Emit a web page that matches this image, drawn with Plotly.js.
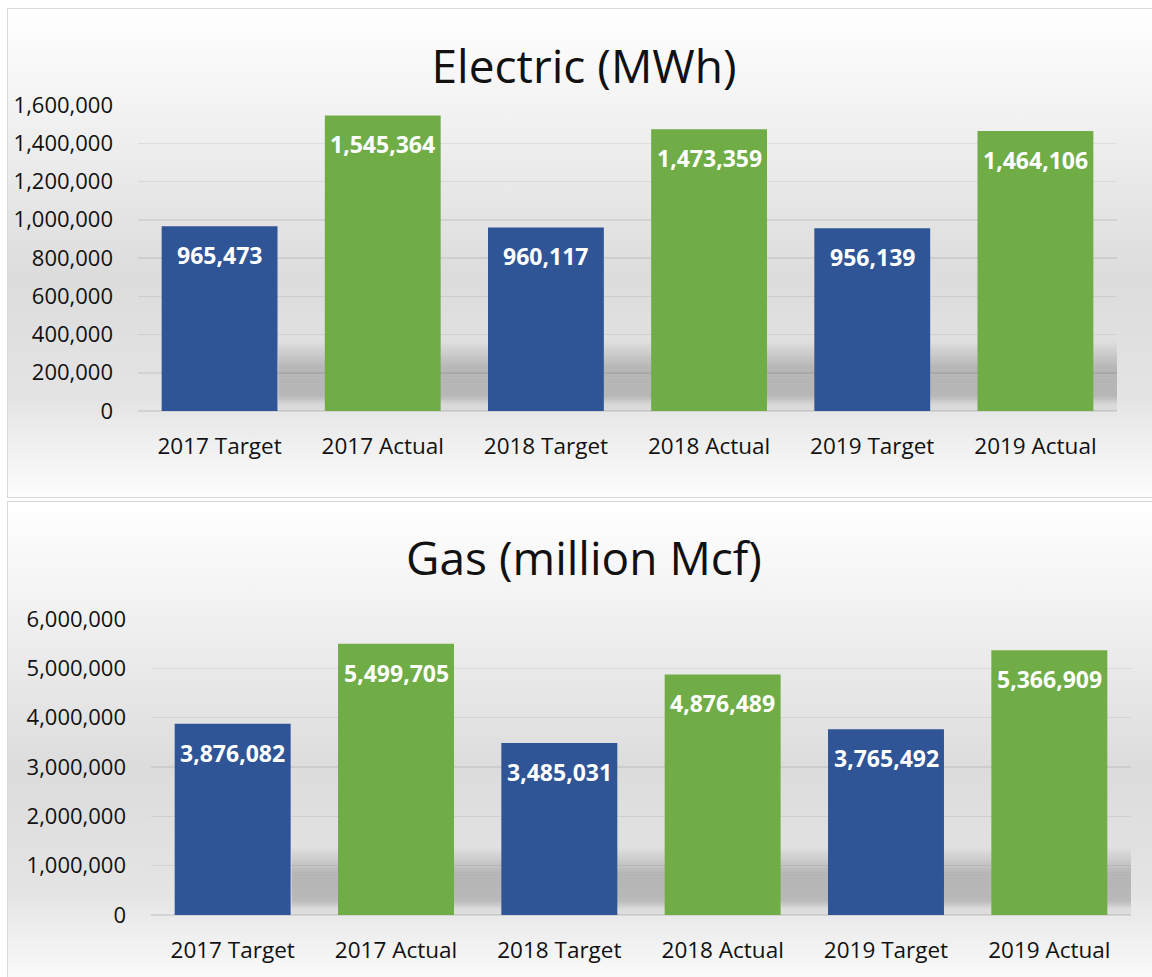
<!DOCTYPE html>
<html>
<head>
<meta charset="utf-8">
<script src="https://cdn.plot.ly/plotly-3.0.1.min.js"></script>
<style>
  html, body { margin: 0; padding: 0; background: #ffffff; width: 1152px; height: 977px; overflow: hidden; }
  .panel {
    position: absolute; left: 7px; width: 1160px;
    border: 1.5px solid #d9d9d9; box-sizing: border-box;
    background: linear-gradient(to bottom, #ffffff 0%, #f6f6f6 15%, #dcdcdc 55%, #e4e4e4 80%, #fdfdfd 100%);
  }
  #p1 { top: 8px; height: 490px; }
  #p2 { top: 501px; height: 490px; }
  .chart { position: absolute; left: 0; top: 0; width: 1160px; height: 490px; }
</style>
</head>
<body>
<div class="panel" id="p1"><div class="chart" id="electric"></div></div>
<div class="panel" id="p2"><div class="chart" id="gas"></div></div>
<script>
// ---- data ----
const categories = ["2017 Target", "2017 Actual", "2018 Target", "2018 Actual", "2019 Target", "2019 Actual"];
const electricValues = [965473, 1545364, 960117, 1473359, 956139, 1464106];
const gasValues = [3876082, 5499705, 3485031, 4876489, 3765492, 5366909];
const barColors = ["#2F5597", "#70AD47", "#2F5597", "#70AD47", "#2F5597", "#70AD47"];
const electricTitle = "Electric (MWh)";
const gasTitle = "Gas (million Mcf)";
const electricRange = [0, 1600000], electricDtick = 200000;
const gasRange = [0, 6000000], gasDtick = 1000000;

const FONT = "'Open Sans', 'Noto Sans', sans-serif";
const fmt = v => v.toLocaleString('en-US');

function shadowOpacity(f) {
  if (f < 0.02) return 0.05;
  if (f < 0.05) return 0.05 + (f - 0.02) / 0.03 * 0.15;
  if (f < 0.14) return 0.2;
  if (f < 0.23) return 0.2 * (0.23 - f) / 0.09;
  return 0;
}
function shadowShapes(range) {
  // soft shadow band behind bars (decorative)
  const m = range[1], shapes = [], step = 0.005;
  for (let f = 0; f < 0.23; f += step) {
    const op = shadowOpacity(f + step / 2);
    shapes.push({
      type: 'rect', layer: 'below', xref: 'x', yref: 'y',
      x0: 0.36, x1: 5.5, y0: f * m, y1: (f + step) * m,
      fillcolor: 'rgba(0,0,0,' + op.toFixed(3) + ')', line: { width: 0 }
    });
  }
  return shapes;
}

function makeChart(id, title, values, range, dtick, margin, titleY) {
  const trace = {
    type: 'bar', x: categories, y: values,
    marker: { color: barColors, line: { width: 0 } },
    hoverinfo: 'none'
  };
  const annotations = categories.map((c, i) => ({
    x: c, y: values[i], xref: 'x', yref: 'y',
    text: '<b>' + fmt(values[i]) + '</b>', showarrow: false,
    yanchor: 'middle', yshift: -29,
    font: { family: FONT, size: 23, color: '#ffffff' }
  }));
  const layout = {
    width: 1160, height: 490,
    margin: margin,
    paper_bgcolor: 'rgba(0,0,0,0)', plot_bgcolor: 'rgba(0,0,0,0)',
    title: { text: title, x: 576 / 1160, xanchor: 'center', xref: 'container',
             y: titleY, yanchor: 'middle', yref: 'container',
             font: { family: FONT, size: 46, color: '#111111' } },
    bargap: 0.29,
    showlegend: false,
    xaxis: { type: 'category', showgrid: false, showline: false, zeroline: false, ticks: '',
             tickfont: { family: FONT, size: 22.5, color: '#111111' }, ticklabelstandoff: 19,
             fixedrange: true },
    yaxis: { range: range, dtick: dtick, tick0: 0, showgrid: true, gridcolor: 'rgba(0,0,0,0.07)', gridwidth: 1.5,
             zeroline: true, zerolinecolor: 'rgba(0,0,0,0.09)', zerolinewidth: 1.5, showline: false, ticks: '',
             tickformat: ',d', separatethousands: true,
             tickfont: { family: FONT, size: 22, color: '#111111' }, ticklabelstandoff: 24,
             fixedrange: true },
    shapes: shadowShapes(range),
    annotations: annotations
  };
  Plotly.newPlot(id, [trace], layout, { displayModeBar: false, staticPlot: true });
}

makeChart('electric', electricTitle, electricValues, electricRange, electricDtick,
  { l: 130, r: 51, t: 96, b: 88 }, 1 - 58 / 490);
makeChart('gas', gasTitle, gasValues, gasRange, gasDtick,
  { l: 143, r: 37, t: 117, b: 77 }, 1 - 57 / 490);
</script>
</body>
</html>
